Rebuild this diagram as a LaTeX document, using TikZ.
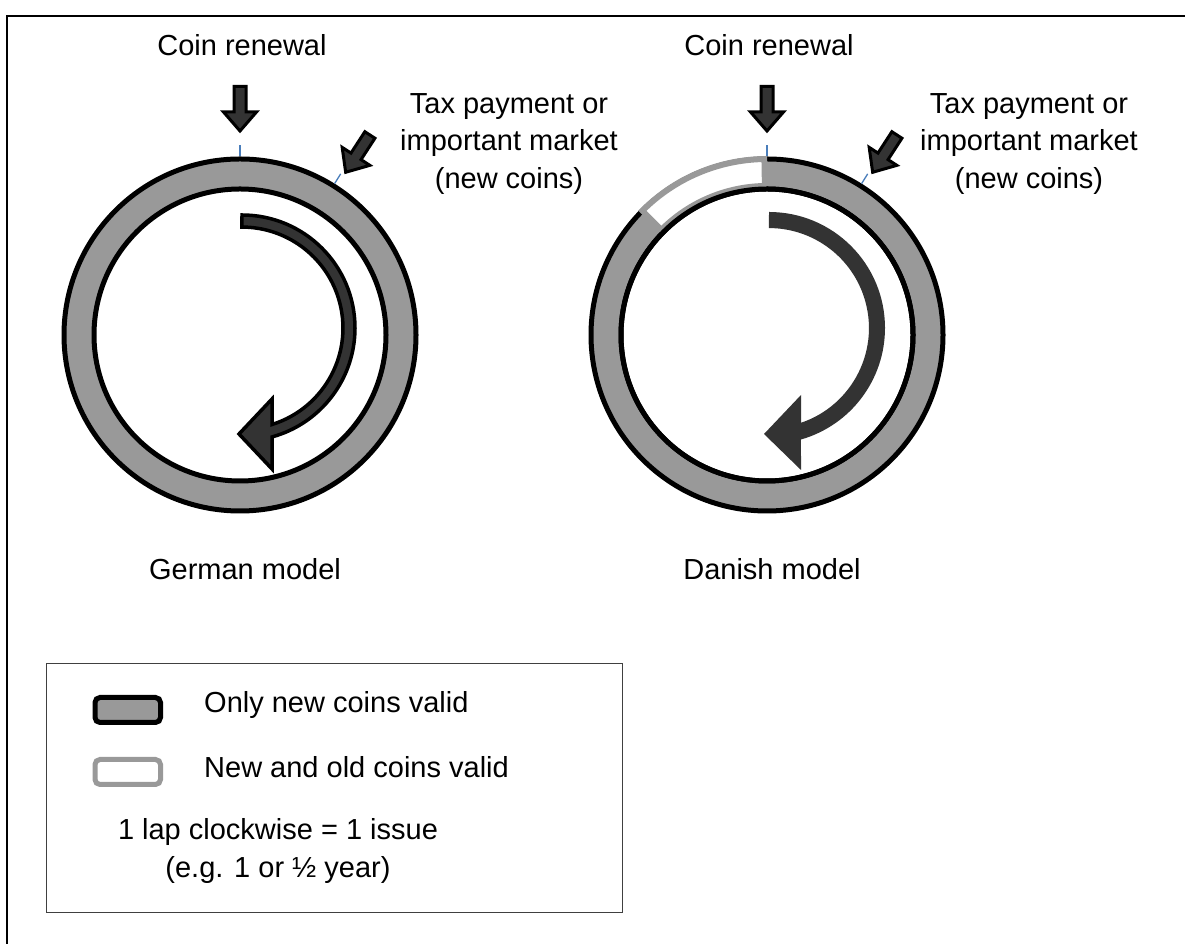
\documentclass[tikz,border=0pt]{standalone}
\usepackage{fontspec}
\setmainfont{Liberation Sans}
\usetikzlibrary{calc}
\definecolor{ringgray}{HTML}{999999}
\definecolor{arrowgray}{HTML}{333333}
\definecolor{tickblue}{HTML}{4A7EBB}
\tikzset{
  ring/.style={fill=ringgray,draw=black,line width=5pt,even odd rule},
  tick/.style={draw=tickblue,line width=1.3pt},
  blockarrow/.style={fill=arrowgray,draw=black,line width=3pt,line join=miter},
  curvearrow/.style={fill=arrowgray,draw=black,line width=3.5pt,line join=miter},
  oldnew/.style={fill=white,draw=ringgray,line width=5pt},
  lbl/.style={font=\fontsize{29}{37.5}\selectfont,align=center,inner sep=0pt},
  legtext/.style={font=\fontsize{29}{37.5}\selectfont,inner sep=0pt},
}
%% block arrow: tip at shift, tail along +y before rotation
\newcommand{\blockarr}[2]{%
  \draw[blockarrow,shift={#1},rotate=#2] (0,0) -- (-16.5,19) -- (-6,19) -- (-6,44.5)
    -- (6,44.5) -- (6,19) -- (16.5,19) -- cycle;}
\begin{document}
\begin{tikzpicture}[x=1pt,y=1pt]
  \useasboundingbox (0,0) rectangle (1185,944);
  \clip (0,0) rectangle (1185,944);
  \draw[line width=1.5pt] (7,-50) rectangle (1250,928);

  %% German model
  \begin{scope}[shift={(240,609)}]
    \draw[ring] (0,0) circle (176) (0,0) circle (146);
    \draw[tick] (90:178.5) -- (90:190);
    \draw[tick] (58:178.5) -- (58:190);
    \blockarr{(90:204)}{0}
    \blockarr{(57:194)}{-33}
    %% clockwise arrow
    \draw[curvearrow] ($(2,7)+(90:113)$) arc[start angle=90,end angle=-74.6,radius=113]
      -- (32,-134) -- (-1,-99) -- (32,-64) -- (32,-89.5)
      arc[start angle=-72.7,end angle=90,radius=101] -- cycle;
  \end{scope}

  %% Danish model
  \begin{scope}[shift={(767,609)}]
    \draw[ring] (0,0) circle (176) (0,0) circle (146);
    %% part where old coins are still valid
    \fill[ringgray] (90:148.5) arc[start angle=90,end angle=136,radius=148.5]
      -- (136:179) arc[start angle=136,end angle=90,radius=179] -- cycle;
    \draw[oldnew] (91:149.5) arc[start angle=91,end angle=135,radius=149.5]
      -- (135:175.5) arc[start angle=135,end angle=91,radius=175.5] -- cycle;
    \draw[line width=5pt] (0,0) circle (146);
    \draw[tick] (90:178.5) -- (90:190);
    \draw[tick] (58:178.5) -- (58:190);
    \blockarr{(90:204)}{0}
    \blockarr{(57:194)}{-33}
    %% clockwise arrow
    \fill[arrowgray] ($(2,7)+(90:116)$) arc[start angle=90,end angle=-74,radius=116]
      -- (34,-135) -- (-3,-99) -- (34,-60) -- (34,-87.8)
      arc[start angle=-71.3,end angle=90,radius=100] -- cycle;
  \end{scope}

  %% labels
  \node (renewG) at (242,888) [lbl,anchor=base] {Coin renewal};
  \node (renewD) at (769,888) [lbl,anchor=base] {Coin renewal};
  \node (taxG) at (509,851) [lbl,anchor=north] {Tax payment or\\important market\\(new coins)};
  \node (taxD) at (1029,851) [lbl,anchor=north] {Tax payment or\\important market\\(new coins)};
  \node (germ) at (245,364) [lbl,anchor=base] {German model};
  \node (dan) at (772,364) [lbl,anchor=base] {Danish model};

  %% legend
  \draw[draw=black!75,line width=1pt] (46,280) rectangle (622,31);
  \draw[fill=ringgray,draw=black,line width=5pt,rounded corners=5pt] (95,246.5) rectangle (160.5,221.5);
  \draw[fill=white,draw=ringgray,line width=5pt,rounded corners=5pt] (95,184.5) rectangle (160.5,159.5);
  \node (onlynew) at (204,231) [legtext,anchor=base west] {Only new coins valid};
  \node (newold) at (204,166) [legtext,anchor=base west] {New and old coins valid};
  \node (lap) at (278,104) [legtext,anchor=base] {1 lap clockwise = 1 issue};
  \node (eg) at (278,66) [legtext,anchor=base] {(e.g. 1 or ½ year)};
\end{tikzpicture}
\end{document}
